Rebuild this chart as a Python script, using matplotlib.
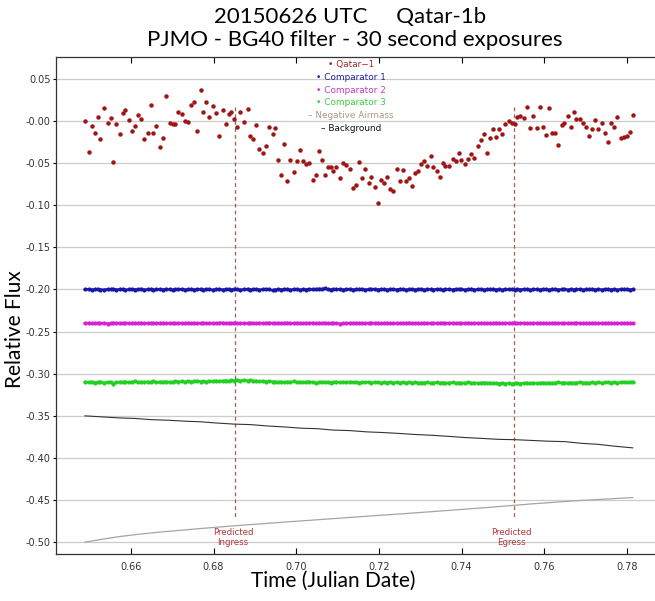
import numpy as np
import matplotlib
matplotlib.use("Agg")
import matplotlib.pyplot as plt

# Qatar-1 differential photometry (time in fractional JD)
q_time = [
    0.6489, 0.6498, 0.6507, 0.6513, 0.6521, 0.6526, 0.6535, 0.6544, 0.6551, 0.6558, 0.6565, 0.6573, 0.6580, 0.6586, 0.6595,
    0.6603, 0.6609, 0.6617, 0.6625, 0.6632, 0.6641, 0.6649, 0.6654, 0.6662, 0.6670, 0.6678, 0.6685, 0.6694, 0.6701, 0.6708,
    0.6715, 0.6724, 0.6732, 0.6738, 0.6745, 0.6753, 0.6761, 0.6770, 0.6775, 0.6782, 0.6790, 0.6798, 0.6806, 0.6813, 0.6822,
    0.6830, 0.6838, 0.6843, 0.6850, 0.6857, 0.6865, 0.6873, 0.6883, 0.6889, 0.6896, 0.6902, 0.6911, 0.6919, 0.6926, 0.6934,
    0.6943, 0.6948, 0.6957, 0.6964, 0.6971, 0.6979, 0.6986, 0.6995, 0.7002, 0.7010, 0.7016, 0.7023, 0.7030, 0.7040, 0.7047,
    0.7055, 0.7062, 0.7069, 0.7076, 0.7084, 0.7090, 0.7097, 0.7106, 0.7114, 0.7121, 0.7131, 0.7138, 0.7145, 0.7153, 0.7160,
    0.7167, 0.7175, 0.7182, 0.7190, 0.7197, 0.7205, 0.7213, 0.7220, 0.7226, 0.7235, 0.7243, 0.7251, 0.7258, 0.7265, 0.7272,
    0.7280, 0.7287, 0.7294, 0.7302, 0.7310, 0.7316, 0.7326, 0.7332, 0.7340, 0.7347, 0.7354, 0.7361, 0.7370, 0.7379, 0.7386,
    0.7394, 0.7399, 0.7408, 0.7416, 0.7424, 0.7431, 0.7439, 0.7447, 0.7454, 0.7462, 0.7468, 0.7475, 0.7483, 0.7491, 0.7498,
    0.7505, 0.7514, 0.7521, 0.7529, 0.7533, 0.7541, 0.7550, 0.7558, 0.7566, 0.7574, 0.7583, 0.7590, 0.7596, 0.7604, 0.7612,
    0.7619, 0.7627, 0.7634, 0.7642, 0.7649, 0.7657, 0.7664, 0.7672, 0.7678, 0.7686, 0.7695, 0.7702, 0.7709, 0.7716, 0.7723,
    0.7731, 0.7740, 0.7747, 0.7755, 0.7762, 0.7769, 0.7777, 0.7785, 0.7793, 0.7800, 0.7807, 0.7814,
]
q_flux = [
    0.0004, -0.0368, -0.0060, -0.0148, 0.0052, -0.0216, 0.0152, -0.0020, 0.0032, -0.0484, -0.0040, -0.0160, 0.0092, 0.0132, 0.0012,
    -0.0120, -0.0060, 0.0072, 0.0024, -0.0216, -0.0148, 0.0192, -0.0148, -0.0060, -0.0312, -0.0196, 0.0292, -0.0020, -0.0040, -0.0036,
    0.0112, 0.0080, 0.0004, -0.0008, 0.0192, 0.0220, -0.0120, 0.0372, 0.0108, 0.0220, 0.0044, 0.0180, 0.0092, -0.0176, 0.0132,
    -0.0032, 0.0080, 0.0104, 0.0024, -0.0076, 0.0104, -0.0016, 0.0140, -0.0176, -0.0208, -0.0052, -0.0328, -0.0380, -0.0300, -0.0072,
    -0.0160, -0.0080, -0.0468, -0.0644, -0.0276, -0.0708, -0.0468, -0.0600, -0.0476, -0.0344, -0.0476, -0.0516, -0.0504, -0.0696, -0.0636,
    -0.0352, -0.0468, -0.0636, -0.0540, -0.0540, -0.0596, -0.0544, -0.0672, -0.0504, -0.0524, -0.0568, -0.0796, -0.0760, -0.0484, -0.0672,
    -0.0568, -0.0740, -0.0668, -0.0788, -0.0968, -0.0700, -0.0740, -0.0664, -0.0812, -0.0836, -0.0572, -0.0716, -0.0584, -0.0716, -0.0680,
    -0.0772, -0.0612, -0.0592, -0.0512, -0.0472, -0.0536, -0.0420, -0.0548, -0.0592, -0.0660, -0.0500, -0.0532, -0.0536, -0.0448, -0.0472,
    -0.0376, -0.0460, -0.0516, -0.0452, -0.0388, -0.0440, -0.0292, -0.0228, -0.0156, -0.0380, -0.0204, -0.0092, -0.0188, -0.0092, -0.0160,
    -0.0040, 0.0004, -0.0028, -0.0032, 0.0044, 0.0064, 0.0032, 0.0164, -0.0088, 0.0060, -0.0084, 0.0164, -0.0076, -0.0168, 0.0156,
    -0.0140, -0.0140, -0.0284, -0.0052, -0.0020, 0.0060, -0.0072, 0.0104, 0.0028, 0.0028, -0.0028, -0.0072, -0.0180, -0.0092, 0.0012,
    -0.0092, -0.0028, -0.0140, -0.0248, -0.0024, -0.0072, 0.0044, -0.0196, -0.0188, -0.0180, -0.0136, 0.0068,
]
comp1 = [
    -0.2000, -0.1997, -0.2002, -0.1999, -0.1996, -0.2001, -0.2003, -0.1998, -0.2000, -0.1996, -0.2002, -0.1999, -0.1997, -0.2004, -0.2000,
    -0.1996, -0.2001, -0.1999, -0.1994, -0.2002, -0.2000, -0.1998, -0.2003, -0.1997, -0.1999, -0.2001, -0.1995, -0.2000, -0.2002, -0.1998,
    -0.1999, -0.1996, -0.2003, -0.2000, -0.1997, -0.2001, -0.1999, -0.1995, -0.2002, -0.2000, -0.1998, -0.2004, -0.1999, -0.1997, -0.2001,
    -0.2000, -0.1996, -0.2002, -0.1999, -0.1998, -0.2003, -0.2000, -0.1995, -0.2001, -0.1999, -0.1997, -0.2002, -0.2000, -0.1996, -0.1999,
    -0.2010, -0.2003, -0.1998, -0.2001, -0.1996, -0.2000, -0.2002, -0.1997, -0.1999, -0.2004, -0.1998, -0.2001, -0.1995, -0.2000, -0.1999,
    -0.1992, -0.1996, -0.1987, -0.1998, -0.2001, -0.1996, -0.2000, -0.1997, -0.2002, -0.1999, -0.1995, -0.2001, -0.2000, -0.1997, -0.1999,
    -0.2002, -0.1998, -0.2000, -0.1996, -0.2001, -0.1999, -0.1997, -0.2002, -0.2000, -0.1998, -0.2001, -0.1996, -0.1999, -0.2003, -0.2000,
    -0.1997, -0.2001, -0.1999, -0.1996, -0.2002, -0.2000, -0.1998, -0.2001, -0.1997, -0.2000, -0.2003, -0.1998, -0.1999, -0.2001, -0.1996,
    -0.2000, -0.1998, -0.2002, -0.1999, -0.1995, -0.2001, -0.2000, -0.1997, -0.2002, -0.1998, -0.2000, -0.1996, -0.2001, -0.1999, -0.2003,
    -0.1998, -0.2000, -0.1996, -0.2002, -0.1999, -0.2001, -0.1997, -0.2000, -0.2003, -0.1998, -0.1999, -0.2001, -0.1996, -0.2000, -0.2002,
    -0.1999, -0.1997, -0.2001, -0.2000, -0.1996, -0.2002, -0.1999, -0.2001, -0.1997, -0.2000, -0.2003, -0.1998, -0.2000, -0.1996, -0.2001,
    -0.1999, -0.2002, -0.1997, -0.2000, -0.2001, -0.1998, -0.2003, -0.1999, -0.2000, -0.1997, -0.2001, -0.1999,
]
comp2 = [
    -0.2401, -0.2398, -0.2403, -0.2400, -0.2397, -0.2402, -0.2399, -0.2404, -0.2400, -0.2396, -0.2401, -0.2399, -0.2402, -0.2398, -0.2400,
    -0.2403, -0.2399, -0.2401, -0.2396, -0.2402, -0.2400, -0.2398, -0.2403, -0.2399, -0.2401, -0.2397, -0.2400, -0.2402, -0.2398, -0.2401,
    -0.2399, -0.2403, -0.2400, -0.2397, -0.2401, -0.2398, -0.2402, -0.2400, -0.2396, -0.2401, -0.2399, -0.2403, -0.2400, -0.2398, -0.2394,
    -0.2401, -0.2399, -0.2402, -0.2397, -0.2400, -0.2403, -0.2399, -0.2401, -0.2396, -0.2400, -0.2402, -0.2398, -0.2401, -0.2399, -0.2395,
    -0.2400, -0.2403, -0.2398, -0.2401, -0.2399, -0.2395, -0.2402, -0.2400, -0.2397, -0.2401, -0.2403, -0.2399, -0.2400, -0.2396, -0.2402,
    -0.2398, -0.2401, -0.2396, -0.2400, -0.2403, -0.2397, -0.2401, -0.2406, -0.2399, -0.2402, -0.2398, -0.2400, -0.2397, -0.2401, -0.2399,
    -0.2403, -0.2400, -0.2396, -0.2401, -0.2398, -0.2402, -0.2400, -0.2397, -0.2401, -0.2399, -0.2403, -0.2400, -0.2398, -0.2401, -0.2396,
    -0.2400, -0.2402, -0.2399, -0.2401, -0.2397, -0.2400, -0.2403, -0.2398, -0.2401, -0.2399, -0.2396, -0.2402, -0.2400, -0.2398, -0.2401,
    -0.2399, -0.2403, -0.2400, -0.2397, -0.2401, -0.2399, -0.2402, -0.2398, -0.2400, -0.2403, -0.2399, -0.2401, -0.2397, -0.2400, -0.2402,
    -0.2398, -0.2401, -0.2399, -0.2396, -0.2402, -0.2400, -0.2398, -0.2401, -0.2403, -0.2399, -0.2400, -0.2397, -0.2401, -0.2399, -0.2402,
    -0.2400, -0.2397, -0.2401, -0.2399, -0.2403, -0.2400, -0.2398, -0.2401, -0.2396, -0.2400, -0.2402, -0.2399, -0.2401, -0.2398, -0.2400,
    -0.2402, -0.2399, -0.2401, -0.2397, -0.2400, -0.2403, -0.2399, -0.2401, -0.2400, -0.2398, -0.2401, -0.2402,
]
comp3 = [
    -0.3098, -0.3102, -0.3095, -0.3105, -0.3100, -0.3093, -0.3108, -0.3101, -0.3097, -0.3118, -0.3103, -0.3096, -0.3100, -0.3094, -0.3102,
    -0.3099, -0.3092, -0.3104, -0.3097, -0.3101, -0.3095, -0.3100, -0.3091, -0.3103, -0.3096, -0.3099, -0.3093, -0.3101, -0.3097, -0.3090,
    -0.3096, -0.3092, -0.3099, -0.3088, -0.3095, -0.3091, -0.3085, -0.3094, -0.3089, -0.3096, -0.3087, -0.3092, -0.3083, -0.3090, -0.3086,
    -0.3081, -0.3089, -0.3078, -0.3084, -0.3072, -0.3086, -0.3075, -0.3083, -0.3079, -0.3088, -0.3085, -0.3092, -0.3087, -0.3094, -0.3090,
    -0.3097, -0.3093, -0.3100, -0.3095, -0.3103, -0.3096, -0.3099, -0.3092, -0.3101, -0.3097, -0.3104, -0.3098, -0.3094, -0.3100, -0.3107,
    -0.3101, -0.3096, -0.3103, -0.3098, -0.3105, -0.3100, -0.3097, -0.3104, -0.3099, -0.3102, -0.3096, -0.3103, -0.3100, -0.3106, -0.3101,
    -0.3104, -0.3099, -0.3106, -0.3101, -0.3103, -0.3108, -0.3102, -0.3105, -0.3100, -0.3107, -0.3103, -0.3106, -0.3101, -0.3108, -0.3104,
    -0.3107, -0.3102, -0.3109, -0.3105, -0.3108, -0.3103, -0.3110, -0.3106, -0.3104, -0.3109, -0.3105, -0.3111, -0.3107, -0.3103, -0.3110,
    -0.3106, -0.3112, -0.3108, -0.3104, -0.3111, -0.3107, -0.3113, -0.3109, -0.3105, -0.3112, -0.3108, -0.3114, -0.3110, -0.3116, -0.3111,
    -0.3118, -0.3113, -0.3120, -0.3115, -0.3111, -0.3117, -0.3112, -0.3108, -0.3114, -0.3109, -0.3115, -0.3110, -0.3106, -0.3112, -0.3107,
    -0.3113, -0.3108, -0.3102, -0.3110, -0.3105, -0.3111, -0.3106, -0.3112, -0.3107, -0.3103, -0.3109, -0.3105, -0.3110, -0.3104, -0.3108,
    -0.3103, -0.3109, -0.3104, -0.3100, -0.3106, -0.3101, -0.3107, -0.3102, -0.3098, -0.3104, -0.3099, -0.3097,
]

bg_time = [0.6489, 0.6530, 0.6570, 0.6610, 0.6650, 0.6690, 0.6730, 0.6770, 0.6810, 0.6850, 0.6890, 0.6930,
           0.6970, 0.7010, 0.7050, 0.7090, 0.7130, 0.7170, 0.7210, 0.7250, 0.7290, 0.7330, 0.7370, 0.7410,
           0.7450, 0.7490, 0.7530, 0.7570, 0.7610, 0.7650, 0.7690, 0.7730, 0.7770, 0.7814]
bg_flux = [-0.3500, -0.3512, -0.3524, -0.3531, -0.3545, -0.3552, -0.3563, -0.3571, -0.3586, -0.3598, -0.3604, -0.3620,
           -0.3631, -0.3646, -0.3652, -0.3669, -0.3675, -0.3690, -0.3698, -0.3709, -0.3722, -0.3731, -0.3744, -0.3758,
           -0.3768, -0.3779, -0.3783, -0.3792, -0.3801, -0.3806, -0.3826, -0.3838, -0.3860, -0.3880]

am_time = [0.6489, 0.6530, 0.6570, 0.6620, 0.6670, 0.6770, 0.6870, 0.6970, 0.7070, 0.7170, 0.7270, 0.7370,
           0.7470, 0.7570, 0.7670, 0.7814]
am_flux = [-0.500, -0.4965, -0.4935, -0.4905, -0.4880, -0.4837, -0.4798, -0.4762, -0.4727, -0.4692, -0.4658,
           -0.4622, -0.4585, -0.4545, -0.4510, -0.4470]

ingress, egress = 0.6853, 0.7527

legend_labels = ["• Qatar−1", "• Comparator 1", "• Comparator 2", "• Comparator 3",
                 "– Negative Airmass", "– Background"]
legend_colors = ["#a8282a", "#22229a", "#c33cc9", "#3ccb3c", "#a99a86", "#111111"]

fig = plt.figure(figsize=(6.55, 6.01), dpi=100)
ax = fig.add_axes([56 / 655, 47 / 601, 1 - 56 / 655, 497 / 601])

ax.plot(am_time, am_flux, color="#aaa49a", lw=0.9, zorder=2)
ax.plot(bg_time, bg_flux, color="#333333", lw=0.8, zorder=2)
ax.plot(q_time, comp3, color="#22d022", lw=1.8, marker="o", ms=2.0, zorder=3)
ax.plot(q_time, comp2, color="#d61fd6", lw=1.8, marker="o", ms=2.0, zorder=3)
ax.plot(q_time, comp1, color="#1818a8", lw=1.8, marker="o", ms=2.0, zorder=3)
ax.plot(q_time, q_flux, ls="none", marker="o", ms=2.2, color="#a01414", zorder=4)

for t in (ingress, egress):
    ax.plot([t, t], [0.017, -0.4715], color="#a05a5a", lw=0.9, dashes=(3, 2.5), zorder=1)
ax.text(ingress - 0.0006, -0.4945, "Predicted\nIngress", color="#b03535", fontsize=6.2,
        ha="center", va="center", linespacing=1.1)
ax.text(egress - 0.0006, -0.4945, "Predicted\nEgress", color="#b03535", fontsize=6.2,
        ha="center", va="center", linespacing=1.1)

for i, (lab, col) in enumerate(zip(legend_labels, legend_colors)):
    ax.text(0.492, 0.984 - i * 0.0255, lab, color=col, fontsize=6.4,
            ha="center", va="center", transform=ax.transAxes)

ax.set_xlim(0.6419, 0.7868)
ax.set_ylim(-0.514, 0.076)
ax.set_xticks([0.66, 0.68, 0.70, 0.72, 0.74, 0.76, 0.78])
ax.set_yticks(np.arange(-0.50, 0.051, 0.05))
ax.yaxis.set_major_formatter(matplotlib.ticker.FormatStrFormatter("%.2f"))
ax.grid(axis="y", color="#cccccc", lw=0.9)
ax.set_axisbelow(True)
ax.spines["right"].set_visible(False)
for s in ("left", "bottom", "top"):
    ax.spines[s].set_color("#333333")
    ax.spines[s].set_linewidth(0.9)
ax.tick_params(axis="x", direction="in", top=True, length=4, width=0.8,
               labelsize=7, labelcolor="#333333", pad=6)
ax.tick_params(axis="y", direction="out", length=2, width=0.8,
               labelsize=7, labelcolor="#333333", pad=2)

fig.text(350 / 655, 1 - 17 / 601, "20150626 UTC     Qatar-1b", family="Lato",
         fontsize=16, ha="center", va="center")
fig.text(355 / 655, 1 - 40 / 601, "PJMO - BG40 filter - 30 second exposures", family="Lato",
         fontsize=16, ha="center", va="center")
fig.text(333 / 655, 1 - 581 / 601, "Time (Julian Date)", family="Lato",
         fontsize=15, ha="center", va="center")
fig.text(15 / 655, 1 - 329 / 601, "Relative Flux", family="Lato",
         fontsize=15, ha="center", va="center", rotation=90)

fig.savefig("out.png", dpi=100)
